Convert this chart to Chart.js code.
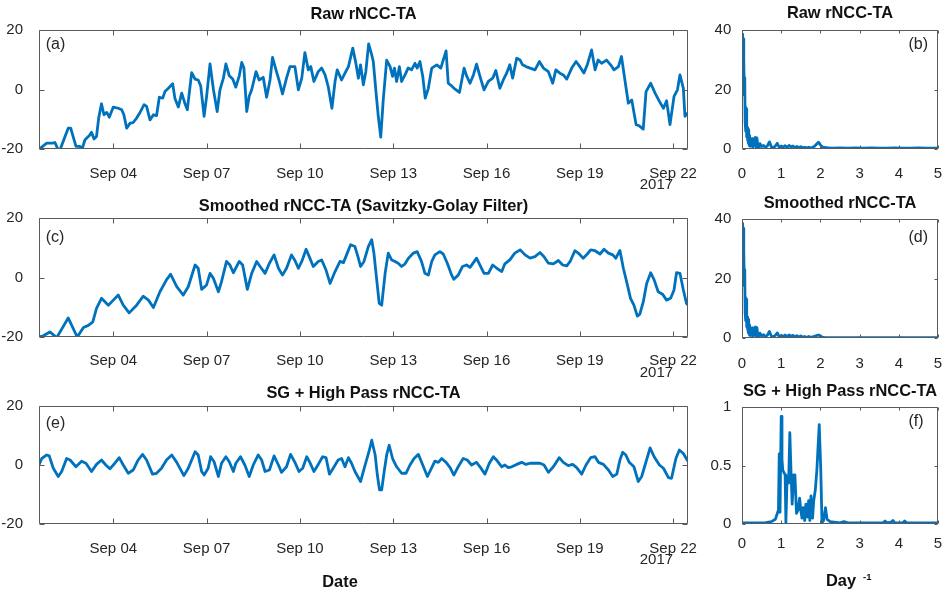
<!DOCTYPE html>
<html>
<head>
<meta charset="utf-8">
<title>rNCC-TA time series and spectra</title>
<script src="https://cdn.jsdelivr.net/npm/chart.js@4.4.1/dist/chart.umd.min.js"></script>
<style>
  html, body { margin: 0; padding: 0; background: #fff; }
  body { width: 946px; height: 594px; position: relative; overflow: hidden;
         font-family: "Liberation Sans", Arial, Helvetica, sans-serif; }
  canvas { position: absolute; }
  .lbl { position: absolute; font-weight: bold; color: #111; white-space: nowrap; line-height: 20px; }
</style>
</head>
<body>
<canvas id="pa" width="700" height="190" style="left:0;top:0"></canvas>
<canvas id="pc" width="700" height="200" style="left:0;top:190px"></canvas>
<canvas id="pe" width="700" height="219" style="left:0;top:375px"></canvas>
<canvas id="pb" width="246" height="190" style="left:700px;top:0"></canvas>
<canvas id="pd" width="246" height="185" style="left:700px;top:190px"></canvas>
<canvas id="pf" width="246" height="219" style="left:700px;top:375px"></canvas>
<div class="lbl" style="left:300px;top:571px;width:80px;text-align:center;font-size:16.4px">Date</div>
<div class="lbl" style="left:826px;top:569.5px;font-size:16.4px">Day</div>
<div class="lbl" style="left:863px;top:566.5px;font-size:9.5px">-1</div>
<script>
// ---- time axis (day of September 2017) ----
const dateTickDays = [4, 7, 10, 13, 16, 19, 22];
const dateTickLabels = ['Sep 04', 'Sep 07', 'Sep 10', 'Sep 13', 'Sep 16', 'Sep 19', 'Sep 22'];
const dateMin = 1.611, dateMax = 22.479;
const yearLabel = '2017';

// ---- frequency axis (cycles per day) ----
const freqTicks = [0, 1, 2, 3, 4, 5];
const freqTickLabels = ['0', '1', '2', '3', '4', '5'];

// ---- raw rNCC-TA ----
const rawDays = [
  1.62, 1.86, 2.07, 2.12, 2.26, 2.55, 2.63, 2.80, 2.93, 2.99,
  3.09, 3.23, 3.30, 3.38, 3.46, 3.53, 3.62, 3.70, 3.79, 3.87,
  4.00, 4.16, 4.27, 4.34, 4.43, 4.54, 4.64, 4.75, 4.86, 4.99,
  5.07, 5.18, 5.29, 5.39, 5.48, 5.59, 5.66, 5.77, 5.91, 5.98,
  6.09, 6.20, 6.30, 6.38, 6.52, 6.63, 6.73, 6.81, 6.92, 7.00,
  7.11, 7.22, 7.34, 7.43, 7.54, 7.62, 7.73, 7.84, 7.94, 8.05,
  8.13, 8.20, 8.29, 8.37, 8.45, 8.59, 8.69, 8.82, 8.93, 9.04,
  9.12, 9.23, 9.34, 9.44, 9.57, 9.68, 9.84, 9.95, 10.06, 10.16,
  10.27, 10.35, 10.45, 10.59, 10.70, 10.81, 10.91, 11.03, 11.13, 11.20,
  11.34, 11.45, 11.56, 11.70, 11.80, 11.88, 11.95, 12.04, 12.12, 12.21,
  12.31, 12.36, 12.45, 12.52, 12.60, 12.68, 12.79, 12.90, 12.98, 13.04,
  13.11, 13.20, 13.27, 13.38, 13.48, 13.59, 13.70, 13.77, 13.86, 13.95,
  14.03, 14.13, 14.24, 14.40, 14.53, 14.70, 14.77, 14.88, 14.99, 15.13,
  15.28, 15.36, 15.47, 15.58, 15.68, 15.79, 15.92, 16.06, 16.20, 16.30,
  16.43, 16.54, 16.64, 16.75, 16.84, 16.97, 17.08, 17.16, 17.27, 17.40,
  17.56, 17.70, 17.83, 17.99, 18.13, 18.23, 18.36, 18.47, 18.58, 18.74,
  18.88, 19.00, 19.13, 19.24, 19.38, 19.49, 19.59, 19.70, 19.86, 19.99,
  20.10, 20.24, 20.34, 20.45, 20.56, 20.67, 20.81, 20.91, 21.04, 21.13,
  21.28, 21.42, 21.56, 21.69, 21.79, 21.90, 22.03, 22.14, 22.22, 22.33,
  22.38, 22.47
];
const rawValues = [
  -20.0, -18.0, -18.0, -17.8, -21.0, -13.0, -13.0, -19.1, -19.1, -20.2,
  -16.9, -15.5, -14.4, -16.6, -15.8, -9.6, -4.8, -8.5, -7.7, -9.3,
  -5.9, -6.3, -6.8, -8.5, -13.0, -11.3, -11.1, -9.6, -7.7, -5.1,
  -5.7, -10.2, -8.5, -8.8, -2.6, -2.9, -0.7, 0.4, 1.9, -2.9,
  -5.9, -1.2, -4.6, -6.8, 5.7, 3.5, 3.2, 1.2, -9.0, -2.3,
  8.6, -0.1, -7.4, -0.1, 3.8, 8.6, 4.6, 3.5, 0.8, 4.6,
  9.1, 7.2, -7.4, -2.3, -0.1, 6.0, 3.2, 4.1, -2.6, 3.2,
  10.8, 6.6, 2.7, -1.5, 3.8, 7.7, 7.7, -0.1, 3.8, 12.4,
  6.6, 7.7, 2.7, 6.0, 7.2, 4.9, 1.0, -6.3, 2.7, 6.6,
  3.2, 5.5, 7.7, 13.9, 8.8, 3.8, 8.3, 1.6, 6.0, 15.3,
  11.6, 9.4, -1.2, -9.0, -16.0, -3.5, 9.9, 7.7, 4.4, 7.2,
  2.7, 7.7, 2.7, 4.9, 7.2, 6.6, 8.8, 7.2, 9.4, 4.4,
  -2.9, 0.4, 7.2, 8.3, 7.2, 13.0, 2.1, 1.2, 0.1, -1.0,
  7.2, 4.6, 2.1, 4.9, 8.5, 4.4, -0.1, 2.7, 3.8, 6.4,
  0.4, 3.2, 5.3, 8.3, 3.8, 10.5, 9.9, 8.3, 7.7, 7.2,
  6.6, 9.4, 7.2, 6.0, 2.1, 6.6, 5.5, 4.9, 3.5, 7.2,
  9.4, 7.7, 5.5, 8.3, 13.3, 6.6, 9.9, 8.8, 9.9, 8.3,
  6.6, 7.7, 11.1, 3.2, -4.6, -3.5, -11.8, -12.2, -13.3, -0.7,
  2.1, -1.2, -4.0, -6.3, -3.8, -11.8, -2.3, -0.1, 4.9, 0.4,
  -9.0, -7.9
];

// ---- Savitzky-Golay smoothed rNCC-TA ----
const smoothDays = [
  1.62, 1.75, 1.96, 2.18, 2.55, 2.84, 3.04, 3.20, 3.34, 3.46,
  3.62, 3.84, 4.00, 4.16, 4.32, 4.51, 4.75, 4.96, 5.13, 5.29,
  5.50, 5.71, 5.84, 6.04, 6.25, 6.41, 6.63, 6.73, 6.84, 7.00,
  7.11, 7.22, 7.38, 7.48, 7.64, 7.75, 7.86, 8.05, 8.16, 8.31,
  8.45, 8.61, 8.72, 8.88, 9.02, 9.17, 9.31, 9.44, 9.57, 9.73,
  9.84, 9.95, 10.06, 10.20, 10.32, 10.43, 10.59, 10.70, 10.84, 10.97,
  11.13, 11.29, 11.40, 11.50, 11.63, 11.77, 11.88, 11.95, 12.06, 12.20,
  12.31, 12.38, 12.47, 12.55, 12.63, 12.74, 12.84, 12.95, 13.06, 13.16,
  13.27, 13.38, 13.49, 13.65, 13.77, 13.91, 14.02, 14.13, 14.24, 14.34,
  14.50, 14.61, 14.74, 14.88, 14.95, 15.09, 15.23, 15.36, 15.47, 15.58,
  15.68, 15.79, 15.92, 16.06, 16.20, 16.33, 16.49, 16.59, 16.75, 16.91,
  17.08, 17.24, 17.40, 17.56, 17.72, 17.85, 17.99, 18.15, 18.31, 18.45,
  18.58, 18.69, 18.84, 18.95, 19.11, 19.24, 19.35, 19.49, 19.65, 19.78,
  19.92, 20.06, 20.16, 20.29, 20.40, 20.53, 20.63, 20.74, 20.85, 20.93,
  21.04, 21.15, 21.28, 21.39, 21.52, 21.66, 21.79, 21.92, 22.03, 22.11,
  22.22, 22.33, 22.43, 22.47
];
const smoothValues = [
  -20.0, -19.6, -18.3, -20.2, -13.6, -20.0, -16.8, -16.1, -14.9, -10.4,
  -7.0, -9.3, -7.6, -5.9, -9.3, -11.9, -9.3, -6.3, -7.6, -10.1,
  -4.8, -0.8, 1.1, -3.1, -5.9, -3.1, 4.2, 3.1, -4.0, -2.5,
  1.4, -0.3, -4.8, -1.4, 5.4, 4.2, 1.6, 5.4, 4.2, -4.0,
  1.4, 5.4, 3.7, 1.4, 4.8, 7.6, 3.1, 0.8, 3.1, 7.6,
  5.7, 3.1, 5.4, 9.5, 6.5, 3.7, 5.4, 5.9, 2.5, -2.0,
  2.0, 5.4, 5.0, 7.6, 11.0, 10.4, 6.5, 3.7, 5.4, 10.4,
  12.7, 8.2, -0.8, -8.7, -9.3, 1.4, 8.2, 5.9, 5.4, 4.8,
  3.7, 4.6, 6.5, 8.2, 8.7, 5.4, 1.4, 0.8, 5.4, 7.6,
  8.7, 7.9, 4.8, 0.8, -0.6, 0.8, 3.7, 4.2, 3.4, 5.0,
  6.5, 4.2, 1.4, 1.4, 4.2, 3.1, 2.0, 4.6, 5.9, 8.2,
  9.3, 7.6, 6.5, 7.0, 8.4, 7.0, 4.8, 4.6, 5.7, 4.2,
  3.9, 5.4, 9.0, 8.2, 6.5, 7.9, 9.3, 9.0, 7.9, 9.5,
  8.2, 7.6, 6.5, 9.1, 3.1, -2.5, -7.0, -9.3, -13.0, -12.3,
  -8.2, -2.0, 1.6, -0.8, -4.8, -5.6, -7.6, -7.0, -4.2, 1.6,
  1.4, -4.2, -8.7, -9.2
];

// ---- SG + high-pass rNCC-TA ----
const highPassDays = [
  1.61, 1.70, 1.86, 1.94, 2.07, 2.23, 2.34, 2.50, 2.61, 2.80,
  2.98, 3.12, 3.30, 3.46, 3.62, 3.76, 3.89, 4.05, 4.19, 4.32,
  4.48, 4.64, 4.80, 4.94, 5.07, 5.26, 5.39, 5.55, 5.71, 5.88,
  6.04, 6.27, 6.41, 6.63, 6.73, 6.84, 6.92, 7.05, 7.13, 7.24,
  7.38, 7.48, 7.62, 7.73, 7.86, 7.94, 8.09, 8.23, 8.37, 8.50,
  8.66, 8.77, 8.88, 9.02, 9.17, 9.31, 9.41, 9.57, 9.70, 9.84,
  9.97, 10.09, 10.22, 10.32, 10.45, 10.59, 10.73, 10.84, 10.95, 11.07,
  11.23, 11.34, 11.45, 11.56, 11.66, 11.77, 11.95, 12.08, 12.22, 12.31,
  12.42, 12.49, 12.56, 12.63, 12.71, 12.79, 12.87, 12.98, 13.11, 13.27,
  13.41, 13.54, 13.67, 13.81, 13.95, 14.10, 14.24, 14.34, 14.45, 14.56,
  14.70, 14.83, 14.95, 15.09, 15.25, 15.38, 15.52, 15.68, 15.79, 15.95,
  16.09, 16.22, 16.32, 16.49, 16.59, 16.70, 16.81, 16.97, 17.13, 17.27,
  17.40, 17.56, 17.72, 17.85, 17.99, 18.15, 18.34, 18.47, 18.63, 18.77,
  18.90, 19.06, 19.20, 19.35, 19.49, 19.60, 19.76, 19.92, 20.06, 20.19,
  20.29, 20.38, 20.48, 20.59, 20.74, 20.88, 20.99, 21.13, 21.26, 21.39,
  21.56, 21.69, 21.85, 21.95, 22.09, 22.20, 22.33, 22.47
];
const highPassValues = [
  0.0, 2.2, 3.4, 3.1, -1.1, -3.9, -2.2, 2.2, 1.7, -0.6,
  1.3, 0.6, -2.2, 0.2, 1.7, 0.0, -1.3, 0.6, 2.5, 0.0,
  -2.8, -1.7, 1.7, 3.6, 1.7, -3.1, -2.8, -1.1, 1.7, 3.4,
  0.9, -3.6, -1.1, 4.5, 3.4, -2.2, -3.4, -1.1, 2.8, 1.1,
  -3.9, 0.6, 2.8, 1.1, -2.2, 0.6, 2.8, 0.0, -3.9, 0.0,
  3.4, 1.7, -2.2, -1.7, 3.1, 0.0, -2.5, -0.6, 3.6, 0.9,
  -2.2, -1.1, 2.8, 0.9, -2.2, 0.2, 2.8, 2.5, -3.1, -1.1,
  1.7, 2.2, -0.6, 2.5, 0.6, -2.2, -5.6, -0.6, 4.5, 8.4,
  3.4, -3.4, -8.4, -8.4, -2.2, 3.4, 6.7, 2.2, -0.6, -2.8,
  -2.8, 0.0, 2.2, 3.6, 0.0, -3.9, -0.9, 1.3, 0.9, 2.2,
  0.9, -0.9, -3.4, -0.6, 2.2, 1.7, 0.0, 0.9, -0.6, -3.1,
  0.6, 2.8, 1.7, -0.6, 0.0, -0.9, -0.6, 0.2, 0.9, 0.2,
  0.6, 0.6, 0.6, 0.0, -2.5, -0.6, 2.5, 0.9, -0.2, 0.2,
  -0.9, -3.1, 0.0, 2.5, 2.8, 0.9, 0.2, -1.7, -3.9, -3.1,
  1.7, 4.3, 3.4, 0.9, -0.6, -5.6, -3.9, 1.1, 5.8, 2.8,
  0.0, -1.1, -4.3, -4.5, 2.2, 5.1, 3.9, 1.3
];

// ---- amplitude spectra of raw and smoothed series ----
const spectrumFreq = [
  0, 0.01, 0.02, 0.03, 0.04, 0.05, 0.06, 0.07, 0.08, 0.09,
  0.10, 0.11, 0.12, 0.13, 0.14, 0.15, 0.16, 0.17, 0.18, 0.19,
  0.20, 0.22, 0.24, 0.26, 0.28, 0.30, 0.32, 0.34, 0.36, 0.38,
  0.40, 0.43, 0.46, 0.50, 0.55, 0.60, 0.65, 0.70, 0.75, 0.80,
  0.85, 0.90, 0.95, 1.00, 1.05, 1.10, 1.15, 1.20, 1.25, 1.30,
  1.35, 1.40, 1.45, 1.50, 1.55, 1.60, 1.65, 1.70, 1.75, 1.80,
  1.85, 1.90, 1.95, 2.00, 2.05, 2.10, 2.20, 2.30, 2.50, 2.70,
  2.90, 3.10, 3.30, 3.50, 3.70, 3.90, 4.10, 4.30, 4.50, 4.70,
  5.00
];
const rawSpectrum = [
  38.6, 38.4, 38.0, 36.0, 37.0, 30.0, 18.0, 24.0, 9.0, 14.0,
  6.0, 13.5, 4.0, 7.2, 3.0, 7.0, 2.0, 6.5, 1.5, 4.5,
  1.0, 3.6, 1.0, 3.5, 0.6, 3.0, 1.2, 3.9, 0.7, 3.7,
  1.6, 0.5, 1.8, 0.8, 1.2, 0.5, 1.1, 2.4, 0.7, 0.5,
  1.0, 1.9, 0.5, 1.0, 0.6, 1.1, 0.5, 1.2, 0.7, 1.0,
  0.5, 0.9, 0.4, 0.8, 0.4, 0.6, 0.3, 0.6, 0.4, 0.6,
  0.9, 1.6, 2.3, 1.4, 0.7, 0.5, 0.4, 0.3, 0.35, 0.3,
  0.4, 0.3, 0.35, 0.3, 0.3, 0.35, 0.3, 0.3, 0.35, 0.3,
  0.3
];
const smoothSpectrum = [
  38.5, 38.3, 37.8, 35.8, 36.8, 29.5, 17.5, 23.0, 8.5, 13.5,
  5.8, 13.0, 3.8, 7.0, 2.8, 6.8, 1.8, 6.2, 1.4, 4.3,
  0.9, 3.5, 0.9, 3.4, 0.5, 2.9, 1.1, 3.7, 0.6, 3.5,
  1.4, 0.5, 1.6, 0.7, 1.1, 0.4, 1.0, 2.2, 0.6, 0.4,
  0.9, 1.7, 0.4, 0.9, 0.5, 1.0, 0.4, 1.0, 0.6, 0.9,
  0.4, 0.8, 0.3, 0.7, 0.3, 0.5, 0.2, 0.5, 0.3, 0.4,
  0.6, 0.8, 1.0, 0.7, 0.3, 0.2, 0.15, 0.15, 0.12, 0.15,
  0.12, 0.12, 0.15, 0.12, 0.12, 0.15, 0.12, 0.12, 0.15, 0.12,
  0.12
];

// ---- amplitude spectrum of the high-passed series ----
const highPassFreq = [
  0, 0.3, 0.6, 0.75, 0.85, 0.9, 0.93, 0.95, 0.97, 1.0,
  1.02, 1.04, 1.07, 1.1, 1.12, 1.15, 1.19, 1.22, 1.25, 1.28,
  1.32, 1.35, 1.39, 1.43, 1.47, 1.5, 1.53, 1.56, 1.6, 1.63,
  1.67, 1.7, 1.73, 1.76, 1.8, 1.83, 1.87, 1.91, 1.97, 2.01,
  2.04, 2.08, 2.13, 2.17, 2.25, 2.5, 2.6, 2.7, 3.0, 3.3,
  3.6, 3.65, 3.7, 3.8, 3.85, 3.9, 4.1, 4.15, 4.2, 4.5,
  5.0
];
const highPassSpectrum = [
  0.01, 0.01, 0.012, 0.02, 0.04, 0.09, 0.12, 0.6, 0.1, 0.92,
  0.55, 0.46, 0.44, 0.42, 0.01, 0.4, 0.35, 0.78, 0.45, 0.17,
  0.42, 0.42, 0.09, 0.12, 0.22, 0.12, 0.05, 0.14, 0.03, 0.17,
  0.06, 0.2, 0.03, 0.24, 0.05, 0.2, 0.29, 0.46, 0.85, 0.46,
  0.01, 0.03, 0.14, 0.04, 0.02, 0.01, 0.02, 0.01, 0.01, 0.01,
  0.01, 0.025, 0.01, 0.015, 0.03, 0.01, 0.01, 0.025, 0.01, 0.01,
  0.01
];

// ---- styling ----
const LINE_BLUE = '#0072BD';
const AXIS_GREY = '#5a5a5a';
const INK = '#262626';
const FONT = '"Liberation Sans", Arial, Helvetica, sans-serif';
const TITLE_SIZE = 16.4;
const TICK_SIZE = 15;
Chart.defaults.font.family = FONT;

// Boxed axes with inward tick marks, panel letter and year caption.
const boxedAxes = {
  id: 'boxedAxes',
  afterDatasetsDraw(chart, args, o) {
    const { ctx, chartArea: a } = chart;
    const xs = chart.scales.x, ys = chart.scales.y;
    const L = Math.round(a.left) + 0.5, R = Math.round(a.right) - 0.5;
    const T = Math.round(a.top) + 0.5, B = Math.round(a.bottom) - 0.5;
    ctx.save();
    ctx.strokeStyle = AXIS_GREY;
    ctx.lineWidth = 1;
    ctx.beginPath();
    ctx.rect(L, T, R - L, B - T);
    xs.ticks.forEach(t => {
      const p = Math.round(xs.getPixelForValue(t.value)) + 0.5;
      ctx.moveTo(p, B); ctx.lineTo(p, B - o.tickLen);
      ctx.moveTo(p, T); ctx.lineTo(p, T + o.tickLen);
    });
    ys.ticks.forEach(t => {
      const p = Math.round(ys.getPixelForValue(t.value)) + 0.5;
      ctx.moveTo(L, p); ctx.lineTo(L + o.tickLen, p);
      ctx.moveTo(R, p); ctx.lineTo(R - o.tickLen, p);
    });
    ctx.stroke();

    ctx.fillStyle = INK;
    ctx.textBaseline = 'middle';
    ctx.textAlign = 'left';
    ctx.font = '16px ' + FONT;
    const tx = o.tagFromRight ? a.right - o.tagX : a.left + o.tagX;
    ctx.fillText(o.tag, tx, a.top + o.tagY);

    if (o.year) {
      ctx.font = TICK_SIZE + 'px ' + FONT;
      ctx.textAlign = 'right';
      ctx.fillText(o.year, xs.getPixelForValue(o.yearAt), a.bottom + 35.5);
    }
    ctx.restore();
  }
};

function makePanel(id, o) {
  const canvas = document.getElementById(id);
  const W = canvas.width, H = canvas.height;
  const lh = TITLE_SIZE * 1.2;
  const points = o.xs.map((x, i) => ({ x, y: o.ys[i] }));
  return new Chart(canvas, {
    type: 'line',
    data: {
      datasets: [{
        data: points,
        borderColor: LINE_BLUE,
        borderWidth: 2.8,
        pointRadius: 0,
        tension: 0,
        fill: false,
        borderJoinStyle: 'round'
      }]
    },
    options: {
      responsive: false,
      animation: false,
      devicePixelRatio: 1,
      events: [],
      layout: { autoPadding: false, padding: { left: 0, right: W - o.area.right, top: 0, bottom: 0 } },
      plugins: {
        legend: { display: false },
        tooltip: { enabled: false },
        title: {
          display: true,
          text: o.title,
          fullSize: false,
          color: '#111',
          font: { family: FONT, size: TITLE_SIZE, weight: 'bold' },
          padding: { top: o.titleY - lh / 2, bottom: o.area.top - o.titleY - lh / 2 }
        },
        boxedAxes: {
          tickLen: o.tickLen, tag: o.tag, tagX: o.tagX, tagY: o.tagY,
          tagFromRight: o.tagFromRight, year: o.year, yearAt: o.yearAt
        }
      },
      scales: {
        x: {
          type: 'linear',
          min: o.xMin, max: o.xMax,
          grid: { display: false },
          border: { display: false },
          afterBuildTicks: s => { s.ticks = o.xTicks.map(v => ({ value: v })); },
          afterFit: s => { s.height = H - o.area.bottom; s.paddingLeft = 0; s.paddingRight = 0; },
          ticks: {
            autoSkip: false, maxRotation: 0, minRotation: 0,
            padding: o.xPad, color: INK,
            font: { family: FONT, size: TICK_SIZE },
            callback: (v, i) => o.xLabels[i]
          }
        },
        y: {
          type: 'linear',
          min: o.yMin, max: o.yMax,
          grid: { display: false },
          border: { display: false },
          afterBuildTicks: s => { s.ticks = o.yTicks.map(v => ({ value: v })); },
          afterFit: s => { s.width = o.area.left; s.paddingTop = 0; s.paddingBottom = 0; },
          ticks: {
            padding: o.yPad, color: INK,
            font: { family: FONT, size: TICK_SIZE },
            callback: (v, i) => o.yLabels[i]
          }
        }
      }
    },
    plugins: [boxedAxes]
  });
}

const timeAxis = {
  xMin: dateMin, xMax: dateMax, xTicks: dateTickDays, xLabels: dateTickLabels,
  yMin: -20, yMax: 20, yTicks: [-20, 0, 20], yLabels: ['-20', '0', '20'],
  yPad: 8, tickLen: 5, tagX: 6.7, tagFromRight: false, year: yearLabel, yearAt: 22
};
const freqAxis = {
  xMin: 0, xMax: 5, xTicks: freqTicks, xLabels: freqTickLabels,
  yPad: 2.7, tickLen: 3, tagX: 29.5, tagFromRight: true, year: null
};

makePanel('pa', Object.assign({}, timeAxis, {
  title: 'Raw rNCC-TA', titleY: 14.5, xs: rawDays, ys: rawValues,
  area: { left: 39, right: 688, top: 30, bottom: 149 }, xPad: 8, tag: '(a)', tagY: 15
}));
makePanel('pc', Object.assign({}, timeAxis, {
  title: 'Smoothed rNCC-TA (Savitzky-Golay Filter)', titleY: 16, xs: smoothDays, ys: smoothValues,
  area: { left: 39, right: 688, top: 28, bottom: 147 }, xPad: 6.5, tag: '(c)', tagY: 19.5
}));
makePanel('pe', Object.assign({}, timeAxis, {
  title: 'SG + High Pass rNCC-TA', titleY: 18.8, xs: highPassDays, ys: highPassValues,
  area: { left: 39, right: 688, top: 31, bottom: 149 }, xPad: 8, tag: '(e)', tagY: 17.3
}));
makePanel('pb', Object.assign({}, freqAxis, {
  title: 'Raw rNCC-TA', titleY: 13.7, xs: spectrumFreq, ys: rawSpectrum,
  yMin: 0, yMax: 40, yTicks: [0, 20, 40], yLabels: ['0', '20', '40'],
  area: { left: 42, right: 238, top: 30, bottom: 149 }, xPad: 8, tag: '(b)', tagY: 14.7
}));
makePanel('pd', Object.assign({}, freqAxis, {
  title: 'Smoothed rNCC-TA', titleY: 13.7, xs: spectrumFreq, ys: smoothSpectrum,
  yMin: 0, yMax: 40, yTicks: [0, 20, 40], yLabels: ['0', '20', '40'],
  area: { left: 42, right: 238, top: 29, bottom: 148 }, xPad: 8.8, tag: '(d)', tagY: 18.2
}));
makePanel('pf', Object.assign({}, freqAxis, {
  title: 'SG + High Pass rNCC-TA', titleY: 16.3, xs: highPassFreq, ys: highPassSpectrum,
  yMin: 0, yMax: 1, yTicks: [0, 0.5, 1], yLabels: ['0', '0.5', '1'],
  area: { left: 42, right: 238, top: 32, bottom: 149 }, xPad: 2.8, tag: '(f)', tagY: 14.3
}));
</script>
</body>
</html>
